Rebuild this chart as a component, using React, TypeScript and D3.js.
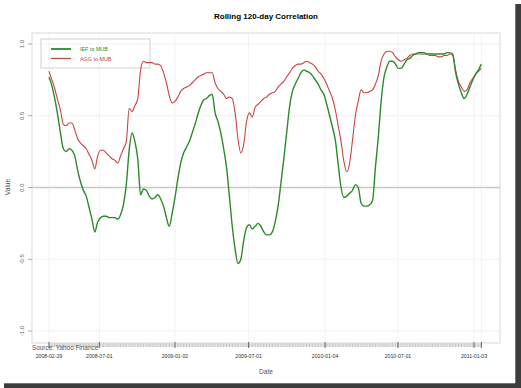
import React from "react";
import * as d3 from "d3";

const TITLE = "Rolling 120-day Correlation";
const START_DATE = "2008-02-29";
const STEP_DAYS = 7;
const X_TICKS = ["2008-02-29", "2008-07-01", "2009-01-02", "2009-07-01", "2010-01-04", "2010-07-01", "2011-01-03"];
const Y_TICKS = [-1, -0.5, 0, 0.5, 1];
const SERIES_NAMES = ["IEF to MUB", "AGG to MUB"];

const IEF_MUB = [
  0.77, 0.71, 0.62, 0.51, 0.38, 0.27, 0.25, 0.27, 0.26, 0.22,
  0.12, 0.04, -0.02, -0.06, -0.14, -0.22, -0.31, -0.24, -0.21, -0.2,
  -0.2, -0.21, -0.21, -0.21, -0.22, -0.19, -0.12, 0.02, 0.26, 0.38,
  0.32, 0.2, -0.05, -0.01, -0.02, -0.06, -0.08, -0.07, -0.05, -0.08,
  -0.13, -0.21, -0.27, -0.18, -0.07, 0.06, 0.17, 0.24, 0.28, 0.32,
  0.38, 0.44, 0.51, 0.57, 0.61, 0.62, 0.64, 0.65, 0.52, 0.46,
  0.38, 0.27, 0.14, -0.06, -0.27, -0.43, -0.53, -0.5, -0.37, -0.28,
  -0.26, -0.29, -0.27, -0.25, -0.27, -0.31, -0.33, -0.33, -0.31, -0.24,
  -0.13, 0.03, 0.2, 0.38, 0.56, 0.67, 0.72, 0.76, 0.8, 0.82,
  0.81, 0.8, 0.78, 0.75, 0.72, 0.68, 0.65, 0.58, 0.5, 0.42,
  0.33, 0.16, 0.0, -0.07, -0.06, -0.04, -0.02, 0.02, 0.0, -0.11,
  -0.13, -0.13, -0.12, -0.09, 0.14, 0.35, 0.6, 0.77, 0.84, 0.88,
  0.88, 0.86, 0.83, 0.83, 0.86, 0.89, 0.9, 0.92, 0.93, 0.94,
  0.94, 0.94, 0.93, 0.93, 0.93, 0.93, 0.93, 0.93, 0.93, 0.94,
  0.94, 0.93, 0.8, 0.72, 0.66, 0.62, 0.65, 0.7, 0.75, 0.79,
  0.82, 0.86,
];

const AGG_MUB = [
  0.81, 0.75, 0.69, 0.61, 0.54, 0.44, 0.43, 0.45, 0.45, 0.4,
  0.34, 0.31, 0.29, 0.27, 0.23, 0.19, 0.13, 0.22, 0.26, 0.26,
  0.24, 0.22, 0.2, 0.19, 0.17, 0.22, 0.27, 0.32, 0.55, 0.53,
  0.57, 0.62, 0.82, 0.88, 0.87, 0.87, 0.87, 0.86, 0.86, 0.85,
  0.8, 0.73, 0.64, 0.59, 0.6, 0.63, 0.67, 0.69, 0.7, 0.71,
  0.73, 0.75, 0.77, 0.78, 0.79, 0.8, 0.8, 0.8, 0.73, 0.69,
  0.67, 0.65, 0.62, 0.63, 0.62, 0.52, 0.34, 0.24, 0.3, 0.46,
  0.52, 0.49, 0.56, 0.58, 0.6, 0.62, 0.63, 0.65, 0.66, 0.67,
  0.7, 0.72, 0.74, 0.77, 0.8, 0.83, 0.85, 0.86, 0.86, 0.87,
  0.88, 0.87, 0.86, 0.84, 0.81, 0.79, 0.76, 0.72, 0.67, 0.62,
  0.54, 0.43, 0.32, 0.18, 0.11, 0.17, 0.33, 0.5, 0.6, 0.68,
  0.66, 0.66, 0.67, 0.68, 0.72, 0.78, 0.88, 0.93, 0.95, 0.95,
  0.94, 0.91, 0.89, 0.88, 0.89, 0.9, 0.92, 0.93, 0.93, 0.93,
  0.93, 0.93, 0.93, 0.92, 0.92, 0.92, 0.91, 0.91, 0.92, 0.92,
  0.93, 0.92, 0.82, 0.74, 0.7, 0.67, 0.68, 0.73, 0.76, 0.79,
  0.81, 0.83,
];

const COLORS = ["#2b8a2b", "#c84444"];
const FONT = "Liberation Sans, Arial, sans-serif";

const parse = d3.timeParse("%Y-%m-%d");

export default function App() {
  const W = 521;
  const H = 388;
  const panel = { left: 32, top: 33, right: 500, bottom: 343 };

  const start = parse(START_DATE) as Date;
  const dates = IEF_MUB.map((_, i) => d3.timeDay.offset(start, i * STEP_DAYS));
  const ticks = X_TICKS.map((s) => parse(s) as Date);

  const x = d3.scaleTime().domain([ticks[0], ticks[ticks.length - 1]]).range([49, 474]);
  const y = d3.scaleLinear().domain([-1, 1]).range([331, 44]);

  const line = d3
    .line<number>()
    .x((_, i) => x(dates[i]))
    .y((v) => y(v))
    .curve(d3.curveMonotoneX);

  const lastDate = dates[dates.length - 1];
  const vGrid = [...ticks, lastDate];

  return (
    <div style={{ position: "fixed", left: 0, top: 0 }}>
      <svg width={W} height={H} style={{ display: "block", fontFamily: FONT }}>
        <rect x={0} y={0} width={W} height={H} fill="#fff" />
        {/* shadow frame */}
        <rect x={515} y={4} width={6} height={384} fill="#3c3c3c" />
        <rect x={4} y={383} width={517} height={5} fill="#3c3c3c" />
        <rect x={515} y={4} width={1} height={379} fill="#777" />
        <rect x={4} y={383} width={511} height={1} fill="#777" />

        {/* title */}
        <text x={266} y={19} textAnchor="middle" fontSize={8} fontWeight="bold" fill="#000">
          {TITLE}
        </text>

        {/* panel */}
        <rect
          x={panel.left}
          y={panel.top}
          width={panel.right - panel.left}
          height={panel.bottom - panel.top}
          fill="#fff"
          stroke="#d9d9d9"
          strokeWidth={1}
        />

        {/* horizontal grid */}
        {Y_TICKS.filter((t) => t !== 0).map((t) => (
          <line
            key={"hg" + t}
            x1={panel.left}
            x2={panel.right}
            y1={y(t)}
            y2={y(t)}
            stroke="#e6e6e6"
            strokeDasharray="1,1"
          />
        ))}
        {/* vertical grid */}
        {vGrid.map((d, i) => (
          <line
            key={"vg" + i}
            x1={x(d)}
            x2={x(d)}
            y1={panel.top}
            y2={panel.bottom}
            stroke="#e6e6e6"
            strokeDasharray="1,1"
          />
        ))}
        {/* zero line */}
        <line x1={panel.left} x2={panel.right} y1={y(0)} y2={y(0)} stroke="#c8c8c8" strokeWidth={1.5} />

        {/* y ticks */}
        {Y_TICKS.map((t) => (
          <g key={"yt" + t}>
            <line x1={28} x2={32} y1={y(t)} y2={y(t)} stroke="#aaa" />
            <text
              transform={`translate(23.5,${y(t)}) rotate(-90)`}
              textAnchor="middle"
              fontSize={6}
              fill="#666"
            >
              {t.toFixed(1)}
            </text>
          </g>
        ))}

        {/* x axis band */}
        <rect x={x(dates[0])} y={343} width={x(lastDate) - x(dates[0])} height={4} fill="#e2e2e2" />
        {dates.map((d, i) => (
          <line key={"mt" + i} x1={x(d)} x2={x(d)} y1={343} y2={347} stroke="#c4c4c4" strokeWidth={0.8} />
        ))}
        {vGrid.map((d, i) => (
          <line key={"Mt" + i} x1={x(d)} x2={x(d)} y1={342} y2={348} stroke="#666" strokeWidth={1} />
        ))}
        {ticks.map((d, i) => (
          <text key={"xl" + i} x={x(d)} y={358} textAnchor="middle" fontSize={5.2} fill="#333">
            {X_TICKS[i]}
          </text>
        ))}

        <text x={32} y={350} fontSize={6.4} fill="#555">
          Source: Yahoo Finance
        </text>
        <text x={266} y={374} textAnchor="middle" fontSize={6.6} fill="#555">
          Date
        </text>
        <text transform={`translate(10,187) rotate(-90)`} textAnchor="middle" fontSize={6.6} fill="#555">
          Value
        </text>

        {/* legend */}
        <rect x={41} y={39} width={109} height={29} fill="none" stroke="#d0d0d0" strokeWidth={1} />
        {SERIES_NAMES.map((name, i) => (
          <g key={"lg" + i}>
            <line
              x1={51}
              x2={71}
              y1={49 + i * 9.5}
              y2={49 + i * 9.5}
              stroke={COLORS[i]}
              strokeWidth={i === 0 ? 1.8 : 1.2}
            />
            <text x={80} y={51 + i * 9.5} fontSize={5.4} fill={COLORS[i]}>
              {name}
            </text>
          </g>
        ))}

        {/* lines */}
        <path d={line(AGG_MUB) || ""} fill="none" stroke={COLORS[1]} strokeWidth={1.1} />
        <path d={line(IEF_MUB) || ""} fill="none" stroke={COLORS[0]} strokeWidth={1.4} />
      </svg>
    </div>
  );
}
